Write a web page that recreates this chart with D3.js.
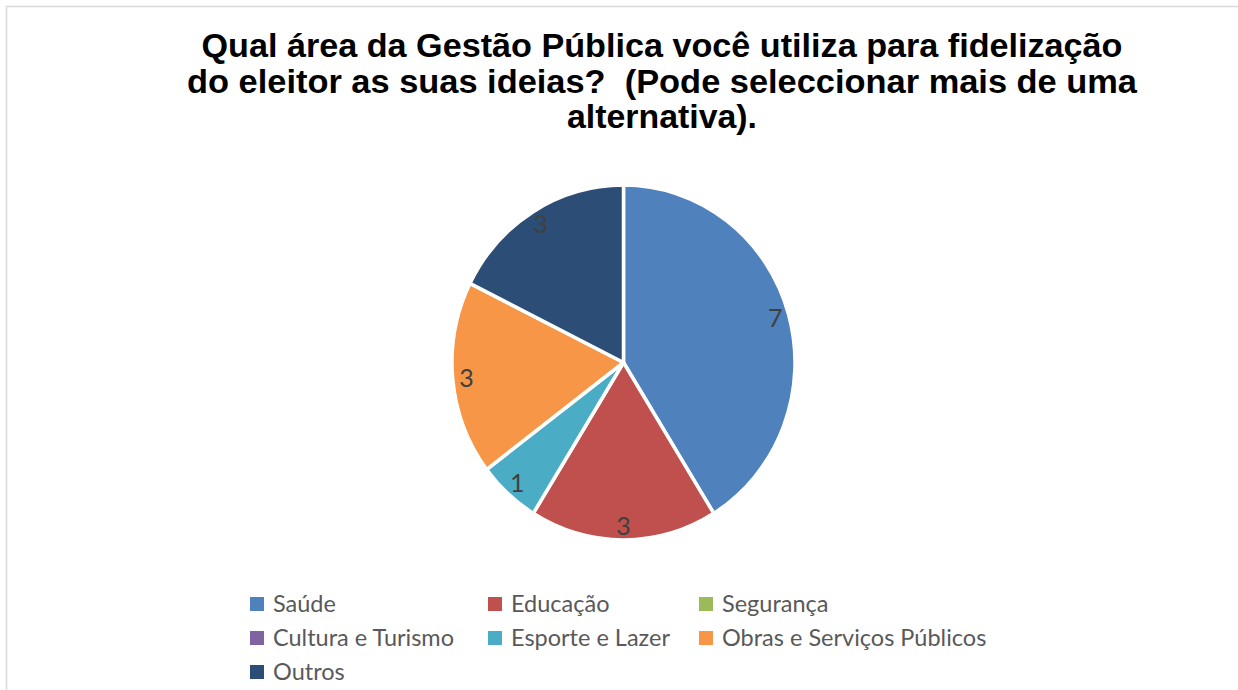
<!DOCTYPE html>
<html>
<head>
<meta charset="utf-8">
<script src="https://cdn.jsdelivr.net/npm/d3@7"></script>
<style>
  body { margin: 0; background: #fff; }
  text { white-space: pre; }
</style>
</head>
<body>
<div class="pie"></div>
<script>
var svgWidth = 1238;
var svgHeight = 690;

// chart data
var categories = ["Saúde", "Educação", "Segurança", "Cultura e Turismo", "Esporte e Lazer", "Obras e Serviços Públicos", "Outros"];
var counts = [7, 3, 0, 0, 1, 3, 3];
var colors = ["#4F81BD", "#C0504D", "#9BBB59", "#8064A2", "#4BACC6", "#F79646", "#2C4D75"];
var titleLines = ["Qual área da Gestão Pública você utiliza para fidelização",
  "do eleitor as suas ideias?  (Pode seleccionar mais de uma",
  "alternativa)."];

var svg = d3.select(".pie")
  .append("svg")
  .attr("width", svgWidth)
  .attr("height", svgHeight);

// chart frame (only top and left edge visible)
svg.append("rect")
  .attr("x", 6.5)
  .attr("y", 6.5)
  .attr("width", 1260)
  .attr("height", 720)
  .attr("fill", "#fff")
  .attr("stroke", "#d9d9d9")
  .attr("stroke-width", 1.5);

// title
var titleWidths = [921, 950, 190];
svg.append("g").selectAll("text")
  .data(titleLines)
  .enter()
  .append("text")
  .attr("x", 662)
  .attr("y", (d, i) => 57 + i * 35.5)
  .attr("text-anchor", "middle")
  .attr("textLength", (d, i) => titleWidths[i])
  .attr("lengthAdjust", "spacingAndGlyphs")
  .attr("font-family", "Liberation Sans, Arial, sans-serif")
  .attr("font-weight", "bold")
  .attr("font-size", "34px")
  .attr("fill", "#000")
  .text(d => d);

// pie
var rx = 171.5, ry = 177.5;
var pieGroup = svg.append("g")
  .attr("transform", `translate(623.5, 362.5) scale(1, ${ry / rx})`);

var pie = d3.pie().sort(null).value(d => d.value);
var data = categories.map((c, i) => ({ name: c, value: counts[i], color: colors[i] }));
var arcs = pie(data);

var arc = d3.arc().innerRadius(0).outerRadius(rx);
var labelArc = d3.arc().innerRadius(rx * 0.92).outerRadius(rx * 0.92);

pieGroup.selectAll("path")
  .data(arcs.filter(d => d.data.value > 0))
  .enter()
  .append("path")
  .attr("d", arc)
  .attr("fill", d => d.data.color)
  .attr("stroke", "#fff")
  .attr("stroke-width", 3.5)
  .attr("stroke-linejoin", "round");

// slice labels (drawn without the vertical stretch)
svg.append("g").selectAll("text")
  .data(arcs.filter(d => d.data.value > 0))
  .enter()
  .append("text")
  .attr("x", d => 623.5 + labelArc.centroid(d)[0])
  .attr("y", d => 362.5 + labelArc.centroid(d)[1] * ry / rx)
  .attr("dy", "0.36em")
  .attr("text-anchor", "middle")
  .attr("font-family", "Lato, Open Sans, sans-serif")
  .attr("font-size", "25px")
  .attr("fill", "#404040")
  .text(d => d.data.value);

// legend
var legendX = [250, 488, 699];
var legend = svg.append("g").selectAll("g")
  .data(data)
  .enter()
  .append("g")
  .attr("transform", (d, i) => `translate(${legendX[i % 3]}, ${604 + Math.floor(i / 3) * 34})`);

legend.append("rect")
  .attr("x", 0)
  .attr("y", -7)
  .attr("width", 14)
  .attr("height", 14)
  .attr("fill", d => d.color);

legend.append("text")
  .attr("x", 23)
  .attr("y", 0)
  .attr("dy", "0.35em")
  .attr("font-family", "Lato, Open Sans, sans-serif")
  .attr("font-size", "23.5px")
  .attr("fill", "#595959")
  .text(d => d.name);
</script>
</body>
</html>
